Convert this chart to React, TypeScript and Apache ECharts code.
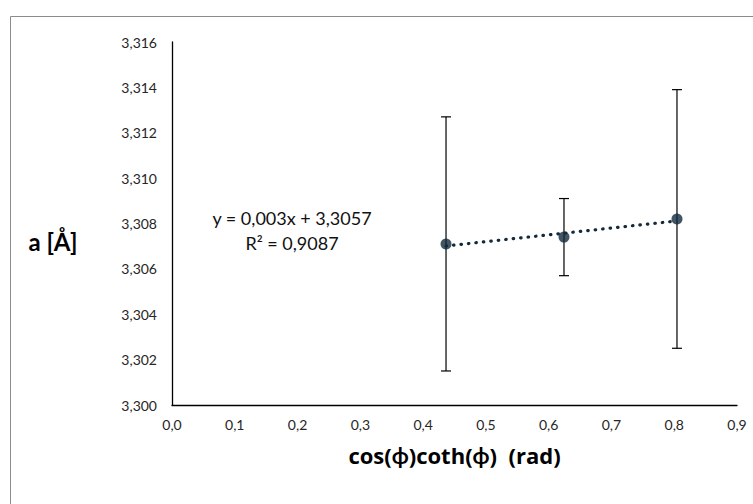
import React, { useEffect, useRef } from "react";
import * as echarts from "echarts";

const xValues = [0.4365, 0.6244, 0.8044];
const yValues = [3.3071, 3.3074, 3.3082];
const errLow = [3.3015, 3.3057, 3.3025];
const errHigh = [3.3127, 3.3091, 3.3139];
const trendSlope = 0.003;
const trendIntercept = 3.3057;
const equationText = "y = 0,003x + 3,3057";
const r2Text = "R² = 0,9087";
const xTitle = "cos(ϕ)coth(ϕ)  (rad)";
const yTitle = "a [Å]";

const FONT = "Lato, 'Open Sans', sans-serif";
const NAVY = "#132a3d";

export default function App() {
  const ref = useRef<HTMLDivElement>(null);
  useEffect(() => {
    if (!ref.current) return;
    const chart = echarts.init(ref.current, null, { renderer: "svg" });
    const points = xValues.map((x, i) => [x, yValues[i]]);
    const errData = xValues.map((x, i) => [x, errLow[i], errHigh[i]]);
    const x0 = xValues[0];
    const x1 = xValues[xValues.length - 1];
    const trend = [
      [x0, trendSlope * x0 + trendIntercept],
      [x1, trendSlope * x1 + trendIntercept],
    ];
    chart.setOption({
      animation: false,
      backgroundColor: "#ffffff",
      grid: { left: 172, right: 16, top: 42, bottom: 99 },
      xAxis: {
        type: "value",
        min: 0,
        max: 0.9,
        interval: 0.1,
        name: xTitle,
        nameLocation: "middle",
        nameGap: 39,
        nameTextStyle: { fontFamily: "'Open Sans', Lato, sans-serif", fontSize: 22, fontWeight: "bold", color: "#000" },
        axisLine: { show: true, lineStyle: { color: "#000", width: 1.3 } },
        axisTick: { show: false },
        splitLine: { show: false },
        axisLabel: {
          fontFamily: FONT,
          fontSize: 14,
          color: "#262626",
          margin: 12,
          formatter: (v: number) => v.toFixed(1).replace(".", ","),
        },
      },
      yAxis: {
        type: "value",
        min: 3.3,
        max: 3.316,
        interval: 0.002,
        axisLine: { show: true, lineStyle: { color: "#000", width: 1.3 } },
        axisTick: { show: false },
        splitLine: { show: false },
        axisLabel: {
          fontFamily: FONT,
          fontSize: 14,
          color: "#262626",
          margin: 15,
          formatter: (v: number) => v.toFixed(3).replace(".", ","),
        },
      },
      graphic: [
        {
          type: "rect",
          shape: { x: 10.5, y: 16.5, width: 800, height: 600 },
          style: { fill: "none", stroke: "#8c8c8c", lineWidth: 1 },
          silent: true,
        },
        {
          type: "text",
          x: 53,
          y: 241,
          style: {
            text: yTitle,
            fontFamily: FONT,
            fontSize: 24,
            fontWeight: "bold",
            fill: "#000",
            align: "center",
            verticalAlign: "middle",
          },
        },
        {
          type: "text",
          x: 292,
          y: 218,
          style: {
            text: equationText,
            fontFamily: FONT,
            fontSize: 18,
            fill: "#111",
            align: "center",
            verticalAlign: "middle",
          },
        },
        {
          type: "text",
          x: 292,
          y: 243,
          style: {
            text: r2Text,
            fontFamily: FONT,
            fontSize: 18,
            fill: "#111",
            align: "center",
            verticalAlign: "middle",
          },
        },
      ],
      series: [
        {
          type: "custom",
          data: errData,
          z: 2,
          renderItem: (params: any, api: any) => {
            const x = api.value(0);
            const lo = api.coord([x, api.value(1)]);
            const hi = api.coord([x, api.value(2)]);
            const cap = 5;
            const style = { stroke: "#000", lineWidth: 1.2 };
            return {
              type: "group",
              children: [
                { type: "line", shape: { x1: lo[0], y1: lo[1], x2: hi[0], y2: hi[1] }, style },
                { type: "line", shape: { x1: lo[0] - cap, y1: lo[1], x2: lo[0] + cap, y2: lo[1] }, style },
                { type: "line", shape: { x1: hi[0] - cap, y1: hi[1], x2: hi[0] + cap, y2: hi[1] }, style },
              ],
            };
          },
        },
        {
          type: "line",
          data: trend,
          showSymbol: false,
          symbol: "none",
          z: 3,
          lineStyle: { color: NAVY, width: 3.2, type: [0.5, 7], cap: "round" },
        },
        {
          type: "scatter",
          data: points,
          symbol: "circle",
          symbolSize: 11,
          z: 4,
          itemStyle: { color: NAVY },
        },
      ],
    });
    return () => chart.dispose();
  }, []);
  return (
    <div
      ref={ref}
      style={{ position: "fixed", left: 0, top: 0, width: 753, height: 504 }}
    />
  );
}
